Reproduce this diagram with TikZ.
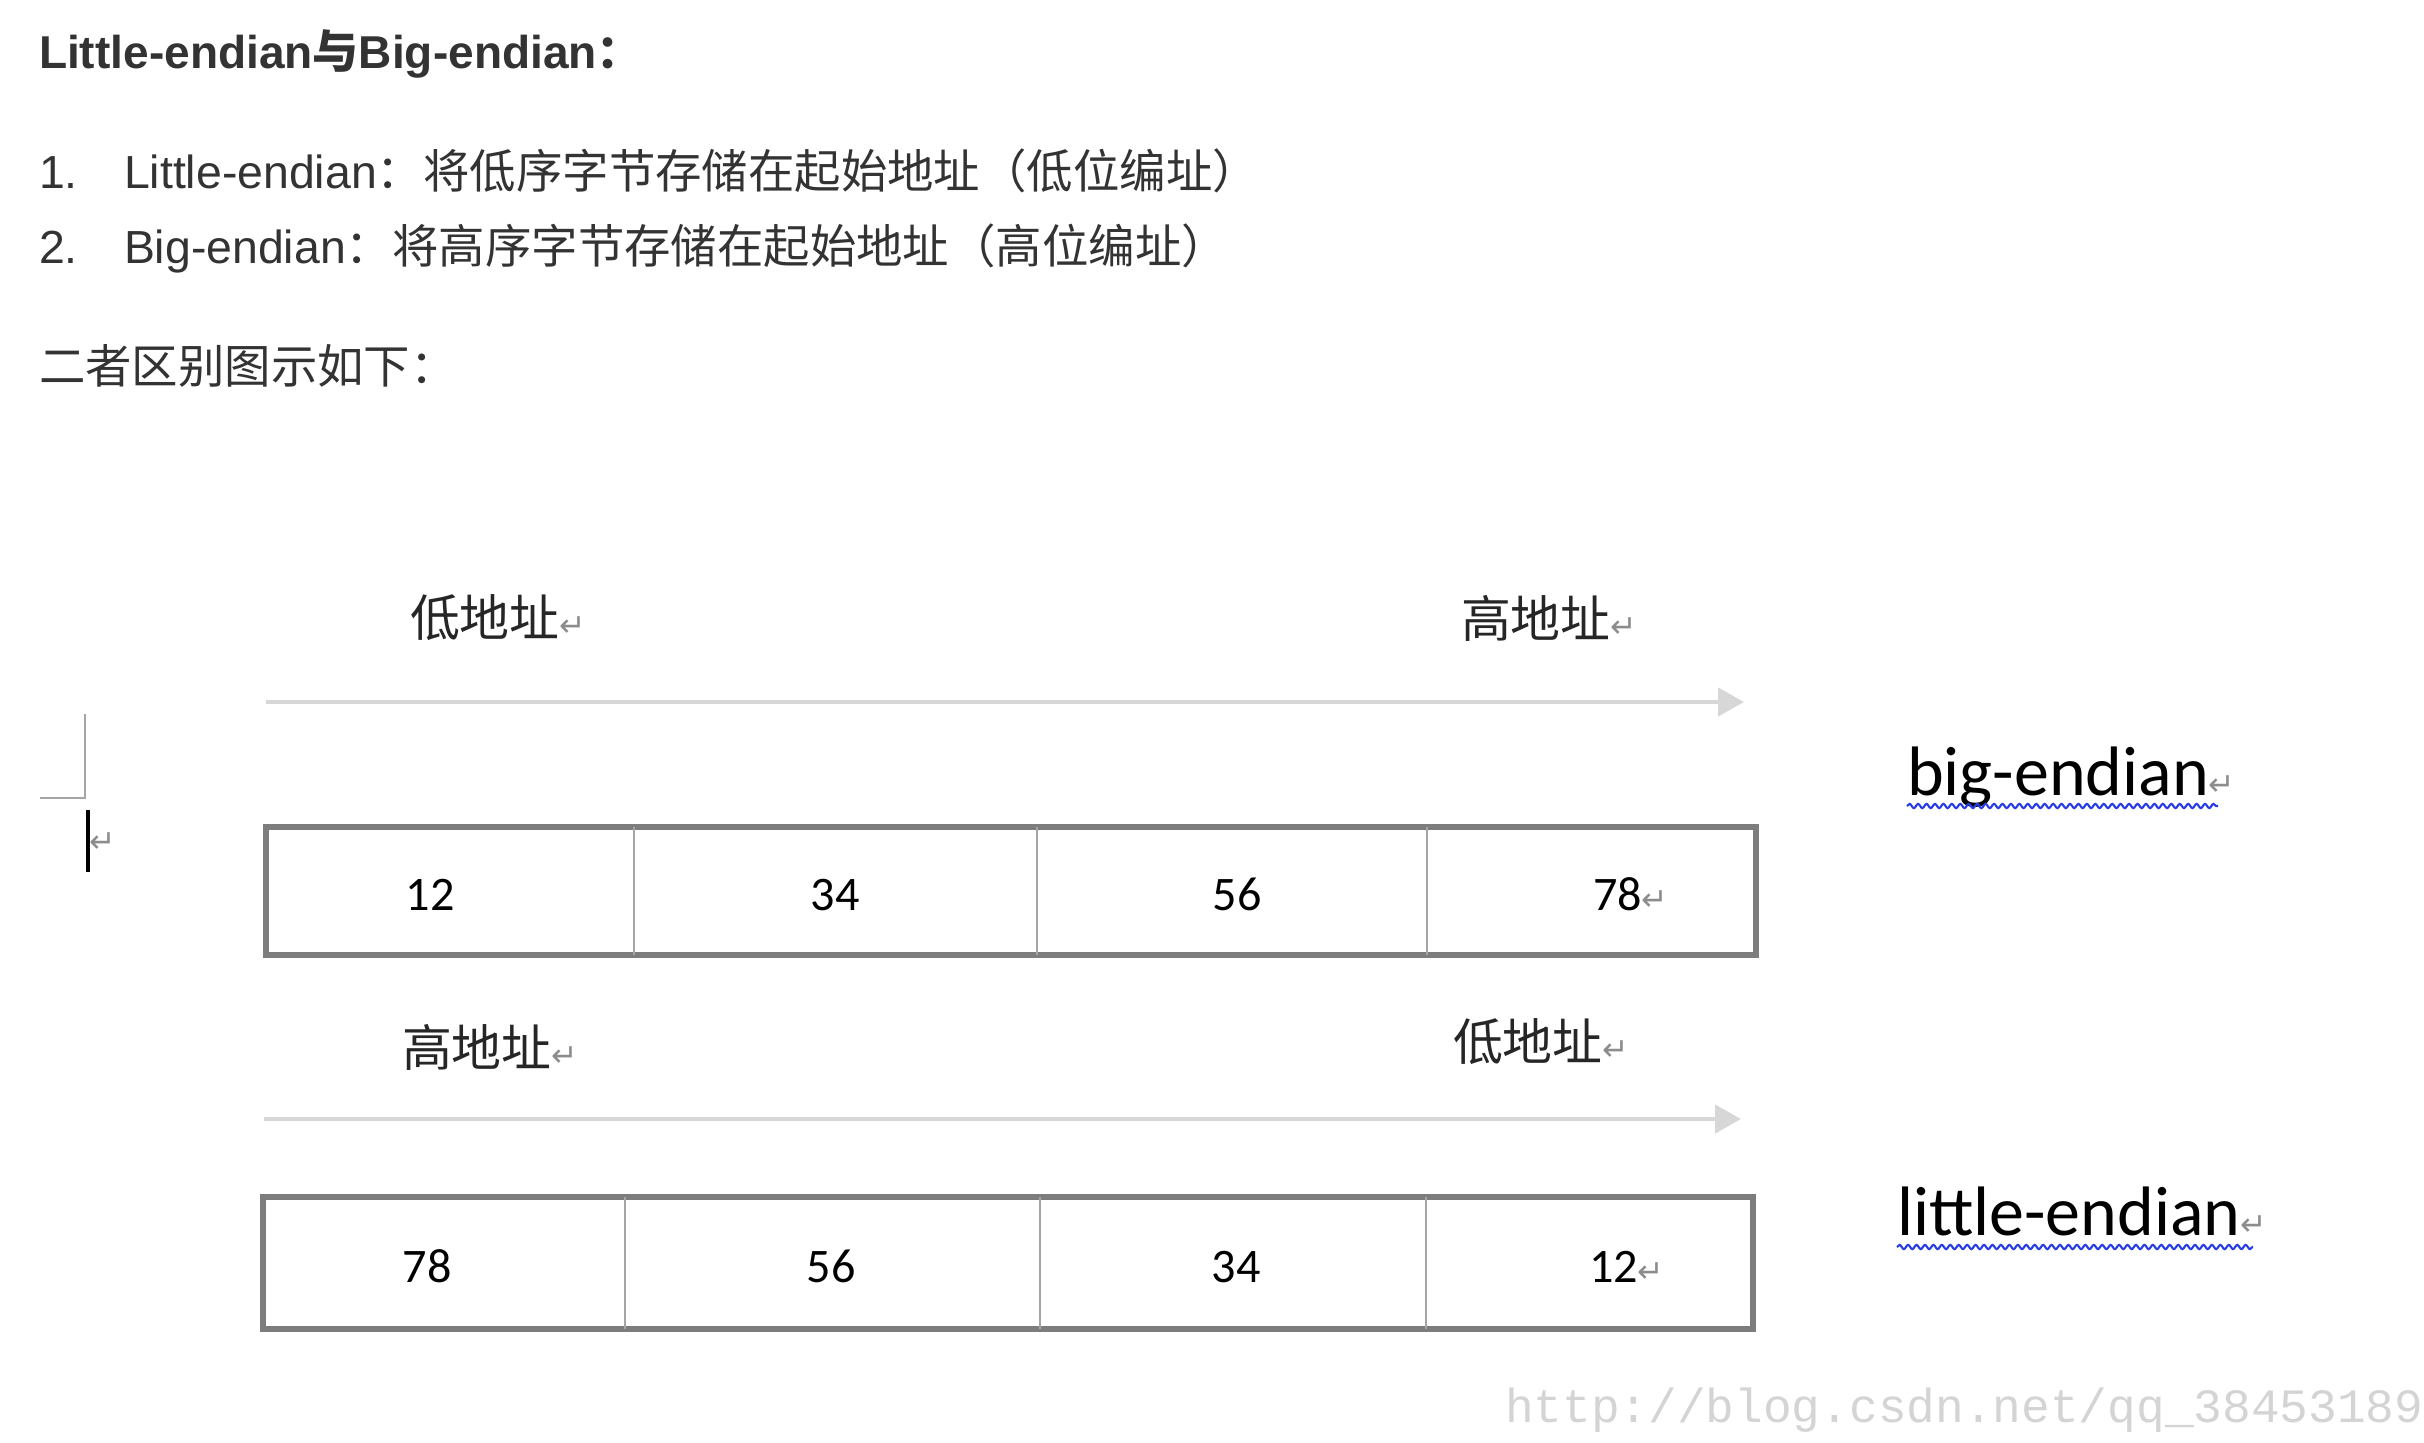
\documentclass[tikz,border=0pt]{standalone}
\usepackage{fontspec}
\setmainfont{Liberation Sans}
\newfontfamily\cjk{Noto Sans CJK SC}
\newfontfamily\calib{Carlito}
\newfontfamily\symfont{DejaVu Sans}
\newfontfamily\wmfont{Liberation Mono}
\usepackage{tikz}
\usetikzlibrary{arrows.meta,positioning,decorations.pathmorphing}
\definecolor{mytextcol}{RGB}{51,51,51}
\definecolor{myframegray}{RGB}{125,125,125}
\definecolor{mydivgray}{RGB}{165,165,165}
\definecolor{myarrowgray}{RGB}{215,215,215}
\definecolor{mywavecol}{RGB}{40,60,230}
\definecolor{myretgray}{RGB}{140,140,140}
\definecolor{mywmgray}{RGB}{212,212,212}
\newcommand{\retmark}{{\symfont\fontsize{9}{9}\selectfont\color{myretgray}↵}}

\begin{document}
\begin{tikzpicture}[
  x=0.01cm, y=-0.01cm,
  every node/.style={inner sep=0pt, outer sep=0pt},
  mytext/.style={
    anchor=base west,
    text=mytextcol,
    font=\fontsize{13.2}{15}\selectfont
    },
  mylabel/.style={
    anchor=west,
    text=black!85,
    font=\cjk\fontsize{14.2}{16}\selectfont
    },
  mycell/.style={
    anchor=base,
    font=\calib\fontsize{13.7}{16}\selectfont
    },
  myname/.style={
    anchor=base west,
    font=\calib\fontsize{19.9}{22}\selectfont
    },
  myframe/.style={draw=myframegray, line width=1.5pt},
  mydiv/.style={draw=mydivgray, line width=0.6pt},
  myarrow/.style={
    draw=myarrowgray,
    line width=1.3pt,
    -{Triangle[length=0.26cm,width=0.28cm]}
    },
  mywave/.style={
    draw=mywavecol,
    line width=0.6pt,
    decorate,
    decoration={snake, amplitude=0.6pt, segment length=2.4pt}
    }
]
\useasboundingbox (0,0) rectangle (2424,1442);

\node [mytext, font=\bfseries\fontsize{13.1}{15}\selectfont] (ttl)
  at (39,68) {Little-endian{\cjk 与}Big-endian{\cjk ：}};
\node [mytext] (num1) at (39,188) {1.};
\node [mytext] (item1) at (124,188)
  {Little-endian{\cjk ：将低序字节存储在起始地址（低位编址）}};
\node [mytext] (num2) at (39,263) {2.};
\node [mytext] (item2) at (124,263)
  {Big-endian{\cjk ：将高序字节存储在起始地址（高位编址）}};
\node [mytext, font=\cjk\fontsize{13.2}{15}\selectfont] (diff) at (39,383) {二者区别图示如下：};

\draw [draw=mydivgray, line width=0.6pt] (85,714) -- (85,798) -- (40,798);
\draw [black, line width=0.9pt] (88,810) -- (88,872);
\node [anchor=west] (cursret) at (90,843) {\retmark};

\node [mylabel] (lowtop) at (410,618) {低地址\retmark};
\node [mylabel] (hightop) at (1461,618) {高地址\retmark};
\coordinate (bigstart) at (266,702);
\coordinate (bigend) at (1744,702);
\draw [myarrow] (bigstart) -- (bigend);

\draw [myframe] (266,827) rectangle (1756,955);
\draw [mydiv] (634,827) -- (634,955);
\draw [mydiv] (1037,827) -- (1037,955);
\draw [mydiv] (1427,827) -- (1427,955);
\node [mycell] (b1) at (430,910) {12};
\node [mycell] (b2) at (835,910) {34};
\node [mycell] (b3) at (1237,910) {56};
\node [mycell, anchor=base west] (b4) at (1593,910) {78\retmark};

\node [myname] (bigname) at (1907,795) {big-endian\retmark};
\draw [mywave] (1907,806) -- (2218,806);

\node [mylabel] (hightbot) at (402,1047) {高地址\retmark};
\node [mylabel] (lowbot) at (1453,1042) {低地址\retmark};
\coordinate (litstart) at (264,1119);
\coordinate (litend) at (1741,1119);
\draw [myarrow] (litstart) -- (litend);

\draw [myframe] (263,1197) rectangle (1753,1329);
\draw [mydiv] (625,1197) -- (625,1329);
\draw [mydiv] (1040,1197) -- (1040,1329);
\draw [mydiv] (1426,1197) -- (1426,1329);
\node [mycell] (l1) at (427,1282) {78};
\node [mycell] (l2) at (831,1282) {56};
\node [mycell] (l3) at (1236,1282) {34};
\node [mycell, anchor=base west] (l4) at (1589,1282) {12\retmark};

\node [myname] (litname) at (1897,1235) {little-endian\retmark};
\draw [mywave] (1897,1247) -- (2253,1247);

\node [anchor=base west, text=mywmgray, font=\wmfont\fontsize{13.6}{15}\selectfont] (wm)
  at (1505,1422) {http://blog.csdn.net/qq\_38453189};
\end{tikzpicture}
\end{document}
